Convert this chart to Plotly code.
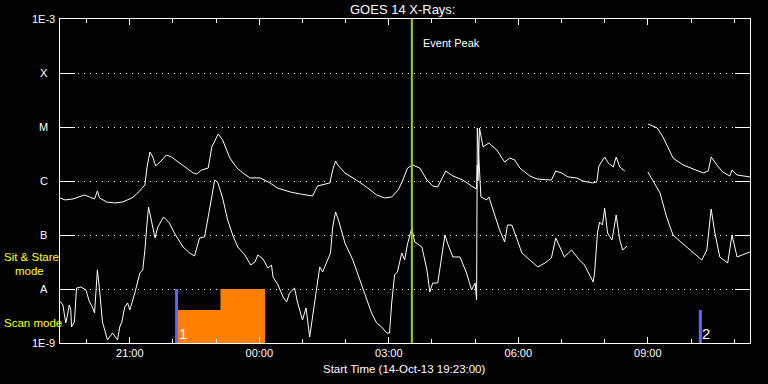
import math
from datetime import datetime, timedelta
import plotly.graph_objects as go

# ---------------- data ----------------
START = datetime(2013, 10, 14, 19, 23)
END = datetime(2013, 10, 15, 11, 22)

# GOES long channel (1-8 A): minutes after start, flux W/m^2 (None = data gap)
long_min = [0, 7, 18, 27, 34, 41, 48, 52, 55, 65, 76, 87, 100, 108, 118, 121, 125, 129, 133, 139,
            148, 155, 166, 176, 185, 190, 197, 206, 211, 220, 226, 236, 246, 254, 264, 278, 292, 302,
            320, 334, 351, 358, 365, 375, 379, 383, 386, 396, 412, 426, 440, 451, 461, 470, 476, 483,
            490, 500, 510, 518, 525, 536, 546, 560, 574, 579, 580, 581, 583, 588, 596, 607, 618, 625,
            632, 639, 653, 663, 683, 689, 697, 706, 718, 727, 740, 746, 749, 757, 762, 769, 773, 778,
            785, 800, 817, 830, 838, 852, 866, 880, 894, 901, 905, 913, 921, 931, 934, 941, 959]
long_flux = [4.85e-7, 4.46e-7, 4.65e-7, 5.06e-7, 5.51e-7, 5.06e-7, 4.65e-7, 6.54e-7, 4.85e-7, 4.09e-7,
             3.92e-7, 4.09e-7, 4.85e-7, 6.0e-7, 8.45e-7, 1.82e-6, 3.45e-6, 2.78e-6, 1.90e-6, 2.25e-6,
             3.03e-6, 2.78e-6, 2.16e-6, 1.74e-6, 1.41e-6, 1.35e-6, 1.60e-6, 1.74e-6, 4.27e-6, 7.43e-6,
             5.75e-6, 2.67e-6, 1.74e-6, 1.41e-6, 1.14e-6, 1.14e-6, 9.2e-7, 7.43e-7, 6.26e-7, 5.75e-7,
             5.28e-7, 8.09e-7, 8.45e-7, 9.2e-7, 1.60e-6, 2.35e-6, 1.98e-6, 1.41e-6, 1.04e-6, 7.75e-7,
             5.51e-7, 4.85e-7, 5.06e-7, 6.82e-7, 1.0e-6, 1.74e-6, 1.98e-6, 1.74e-6, 1.04e-6, 8.09e-7,
             7.75e-7, 1.53e-6, 1.24e-6, 1.04e-6, 7.75e-7, 7.12e-7, 1.98e-6, 1.0e-6, 9.6e-6, 4.27e-6,
             5.06e-6, 3.76e-6, 2.25e-6, 2.67e-6, 2.45e-6, 1.74e-6, 1.24e-6, 1.09e-6, 1.04e-6, 1.53e-6,
             1.41e-6, 1.19e-6, 1.14e-6, 1.0e-6, 9.2e-7, 9.6e-7, 1.90e-6, 2.78e-6, 2.16e-6, 1.82e-6,
             2.78e-6, 1.82e-6, 1.53e-6, None, 1.14e-5, 9.6e-6, 6.54e-6, 2.67e-6, 1.98e-6, 1.67e-6,
             1.41e-6, 1.53e-6, 2.78e-6, 1.98e-6, 1.47e-6, 1.24e-6, 1.60e-6, 1.29e-6, 1.19e-6]

# GOES short channel (0.5-4 A)
short_min = [0, 1, 4, 8, 9, 13, 15, 16, 20, 23, 29, 36, 41, 45, 48, 52, 55, 59, 66, 73, 80, 83, 86, 90,
             94, 97, 104, 111, 115, 118, 121, 123, 126, 132, 136, 144, 152, 159, 171, 180, 187, 194,
             201, 208, 215, 219, 226, 233, 240, 247, 257, 265, 271, 275, 282, 289, 294, 296, 303, 310,
             315, 319, 326, 330, 336, 337, 342, 347, 351, 355, 361, 365, 371, 376, 379, 383, 387, 396,
             407, 417, 426, 433, 440, 447, 454, 458, 461, 465, 469, 475, 479, 483, 489, 493, 503, 510,
             514, 518, 525, 531, 535, 539, 546, 556, 565, 572, 577, 579, 580, 585, 593, 596, 602, 611,
             618, 622, 628, 635, 642, 653, 664, 674, 683, 689, 701, 711, 722, 729, 736, 741, 743, 747,
             750, 754, 757, 761, 767, 768, 773, 778, 782, 788, 800, 817, 824, 834, 843, 852, 866, 880,
             892, 899, 905, 910, 917, 928, 934, 941, 949, 959]
short_flux = [5.75e-9, 5.75e-9, 5.06e-9, 2.35e-9, 2.67e-9, 5.06e-9, 4.09e-9, 1.98e-9, 2.45e-9, 1.04e-8,
              1.09e-8, 9.6e-9, 5.75e-9, 4.65e-9, 3.6e-9, 2.25e-8, 9.6e-9, 2.45e-9, 1.14e-9, 1.53e-9,
              1.14e-9, 1.98e-9, 2.45e-9, 4.65e-9, 5.51e-9, 4.09e-9, 8.45e-9, 1.98e-8, 2.25e-8, 5.28e-8,
              1.67e-7, 3.3e-7, 2.16e-7, 8.82e-8, 1.41e-7, 2.16e-7, 1.67e-7, 1.09e-7, 6.0e-8, 4.65e-8,
              4.09e-8, 8.82e-8, 9.2e-8, 3.17e-7, 1.04e-6, 9.6e-7, 4.85e-7, 1.90e-7, 1.0e-7, 6.0e-8,
              4.27e-8, 2.78e-8, 3.17e-8, 4.27e-8, 3.6e-8, 2.45e-8, 2.78e-8, 1.67e-8, 1.19e-8, 7.12e-9,
              5.75e-9, 8.45e-9, 1.04e-8, 5.75e-9, 3.03e-9, 2.67e-9, 4.46e-9, 1.29e-9, 3.03e-9, 7.12e-9,
              2.56e-8, 2.07e-8, 3.17e-8, 4.65e-8, 1.41e-7, 2.67e-7, 1.90e-7, 7.12e-8, 3.45e-8, 1.47e-8,
              6.82e-9, 3.6e-9, 2.35e-9, 1.98e-9, 1.53e-9, 1.53e-9, 5.51e-9, 1.82e-8, 2.07e-8, 4.65e-8,
              3.45e-8, 6.82e-8, 1.35e-7, 7.43e-8, 6.0e-8, 2.25e-8, 8.82e-9, 1.29e-8, 1.29e-8, 4.65e-8,
              1.0e-7, 6.82e-8, 3.92e-8, 3.92e-8, 1.98e-8, 9.6e-9, 1.29e-8, 6.26e-9, 9.6e-6, 5.06e-7,
              4.46e-7, 5.06e-7, 2.91e-7, 1.24e-7, 7.43e-8, 1.53e-7, 1.53e-7, 8.09e-8, 4.65e-8, 3.45e-8,
              2.56e-8, 3.03e-8, 3.76e-8, 8.82e-8, 3.92e-8, 5.28e-8, 3.45e-8, 2.78e-8, 1.82e-8, 1.35e-8,
              1.98e-8, 1.09e-7, 1.74e-7, 1.53e-7, 3.17e-7, 1.09e-7, 8.09e-8, 9.2e-8, 2.35e-7, 8.09e-8,
              5.28e-8, 6.26e-8, None, 1.47e-6, 1.04e-6, 6.0e-7, 2.16e-7, 1.0e-7, 6.82e-8, 4.65e-8,
              3.45e-8, 5.28e-8, 3.03e-7, 1.14e-7, 3.92e-8, 3.03e-8, 1.0e-7, 3.92e-8, 4.27e-8, 4.85e-8]

event_peak = "2013-10-15 03:32"

# observation mode timeline (orange)
obs_times = ["2013-10-14 22:07", "2013-10-14 23:06", "2013-10-15 00:08"]
obs_levels = [4.1e-9, 1.0e-8]          # scan mode, sit & stare mode

# numbered observation markers (purple)
marker_times = ["2013-10-14 22:05", "2013-10-15 10:13"]
marker_tops = [1.0e-8, 4.1e-9]
marker_labels = ["1", "2"]

ylevels = [1e-3, 1e-4, 1e-5, 1e-6, 1e-7, 1e-8, 1e-9]
ylabels = ["1E-3", "X", "M", "C", "B", "A", "1E-9"]

# ---------------- figure ----------------
FONT = "Liberation Sans"
BASE = 1e-9


def to_t(m):
    return START + timedelta(minutes=m)


fig = go.Figure()

# orange mode bars
ox = [obs_times[0], obs_times[0], obs_times[1], obs_times[1], obs_times[2], obs_times[2]]
oy = [BASE, obs_levels[0], obs_levels[0], obs_levels[1], obs_levels[1], BASE]
fig.add_trace(go.Scatter(x=ox, y=oy, fill="toself", fillcolor="#ff8000", mode="lines",
                         line=dict(width=0, color="#ff8000"), hoverinfo="skip"))

# curves
fig.add_trace(go.Scatter(x=[to_t(m) for m in long_min], y=long_flux, mode="lines",
                         line=dict(color="white", width=1), connectgaps=False))
fig.add_trace(go.Scatter(x=[to_t(m) for m in short_min], y=short_flux, mode="lines",
                         line=dict(color="white", width=1), connectgaps=False))

# markers
for mt, top, lab in zip(marker_times, marker_tops, marker_labels):
    fig.add_trace(go.Scatter(x=[mt, mt], y=[BASE, top], mode="lines",
                             line=dict(color="#6464ff", width=3)))
    fig.add_annotation(x=mt, y=math.log10(1.53e-9), xref="x", yref="y", text=lab,
                       showarrow=False, xanchor="left", yanchor="middle", xshift=0,
                       font=dict(family=FONT, size=15, color="white"))

# event peak line
fig.add_trace(go.Scatter(x=[event_peak, event_peak], y=[1e-9, 1e-3], mode="lines",
                         line=dict(color="#a0d200", width=2)))
fig.add_annotation(x=event_peak, y=0.926, xref="x", yref="paper", text="Event Peak",
                   showarrow=False, xanchor="left", yanchor="middle", xshift=9,
                   font=dict(family=FONT, size=11, color="white"))

# y labels
for lv, lab in zip(ylevels, ylabels):
    fig.add_annotation(x=-0.0232, y=math.log10(lv), xref="paper", yref="y", text=lab,
                       showarrow=False, xanchor="center", yanchor="middle",
                       font=dict(family=FONT, size=11, color="white"))

# yellow mode labels
yel = dict(family=FONT, size=11.5, color="#ffff00")
fig.add_annotation(x=-0.0841, y=0.265, xref="paper", yref="paper", text="Sit & Stare",
                   showarrow=False, xanchor="left", yanchor="middle", font=yel)
fig.add_annotation(x=-0.0686, y=0.222, xref="paper", yref="paper", text="mode",
                   showarrow=False, xanchor="left", yanchor="middle", font=yel)
fig.add_annotation(x=-0.0841, y=0.0617, xref="paper", yref="paper", text="Scan mode",
                   showarrow=False, xanchor="left", yanchor="middle", font=yel)

# titles
fig.add_annotation(x=0.4957, y=1.029, xref="paper", yref="paper", text="GOES 14 X-Rays:",
                   showarrow=False, xanchor="center", yanchor="middle",
                   font=dict(family=FONT, size=13, color="white"))
fig.add_annotation(x=0.4986, y=-0.080, xref="paper", yref="paper",
                   text="Start Time (14-Oct-13 19:23:00)",
                   showarrow=False, xanchor="center", yanchor="middle",
                   font=dict(family=FONT, size=11.5, color="white"))

fig.update_layout(
    width=768, height=384,
    margin=dict(l=60, r=18, t=19, b=41),
    paper_bgcolor="black", plot_bgcolor="black",
    showlegend=False,
    xaxis=dict(
        type="date", range=[START, END],
        showline=True, linecolor="white", linewidth=1, mirror="ticks",
        ticks="inside", ticklen=6, tickcolor="white", tickwidth=1,
        tick0="2013-10-14 21:00", dtick=3 * 3600000, tickformat="%H:%M",
        tickfont=dict(family=FONT, size=11, color="white"),
        showgrid=False, zeroline=False,
        minor=dict(ticks="inside", ticklen=4, tickcolor="white", dtick=3600000,
                   tick0="2013-10-14 21:00", showgrid=False),
    ),
    yaxis=dict(
        type="log", range=[-9, -3],
        showline=True, linecolor="white", linewidth=1, mirror="ticks",
        ticks="inside", ticklen=15, tickcolor="white", tickwidth=1,
        tickvals=ylevels, showticklabels=False,
        showgrid=True, gridcolor="white", gridwidth=1, griddash="1px,5px",
        zeroline=False,
    ),
)

fig.write_html("out.html", config={"displayModeBar": False},
               post_script="document.body.style.margin='0';document.body.style.background='black';")
